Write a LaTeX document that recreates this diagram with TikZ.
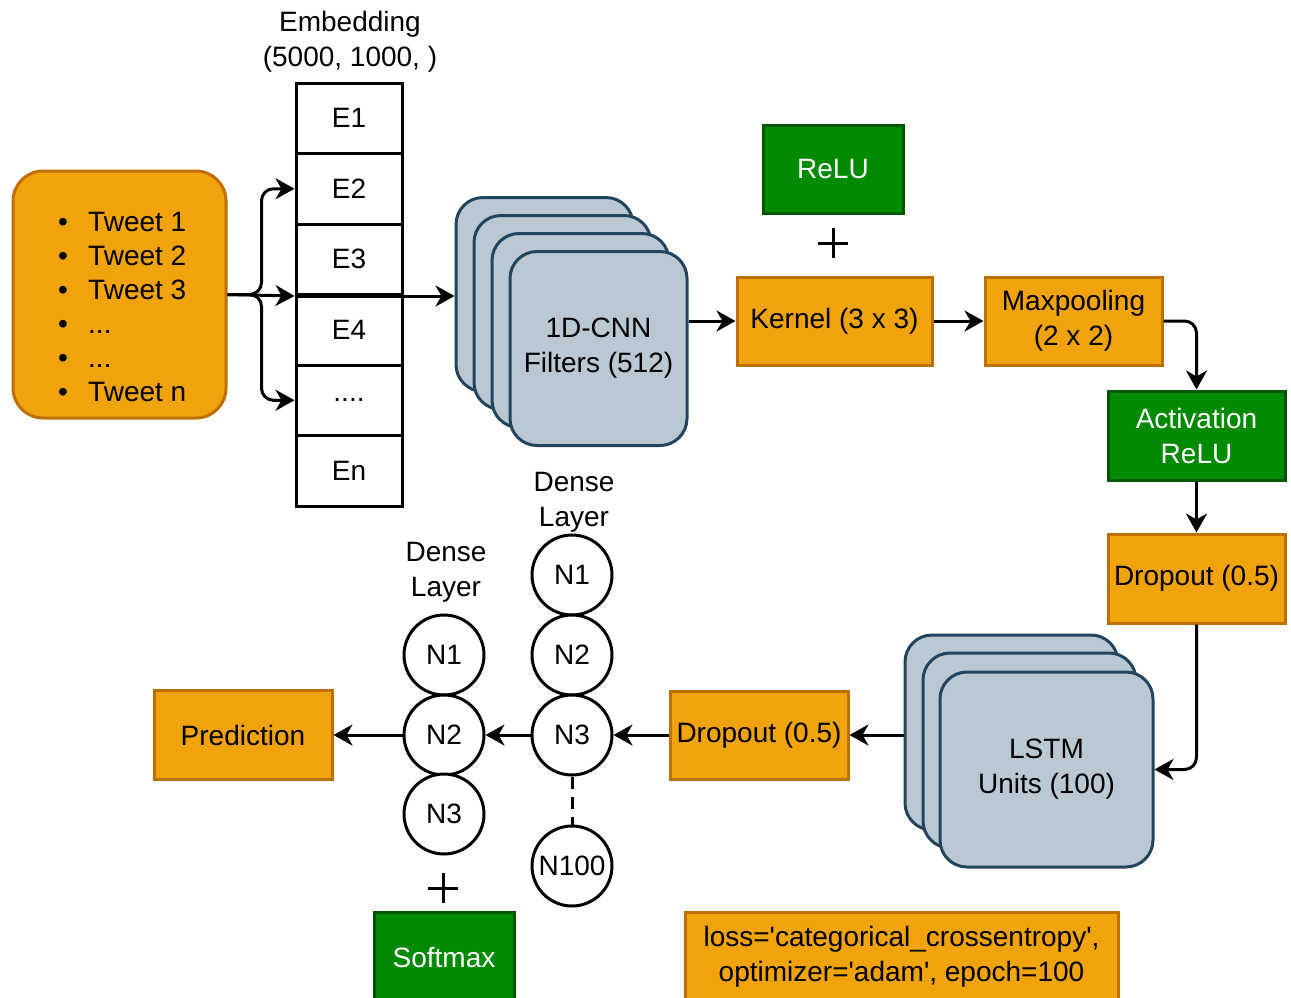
\documentclass[tikz,border=0pt]{standalone}
\usepackage{fontspec}
\setmainfont{Liberation Sans}
\usetikzlibrary{arrows.meta}
\definecolor{ofill}{HTML}{F0A30A}
\definecolor{odraw}{HTML}{BD7000}
\definecolor{gfill}{HTML}{008A00}
\definecolor{gdraw}{HTML}{005700}
\definecolor{bfill}{HTML}{BAC8D3}
\definecolor{bdraw}{HTML}{23445D}
\begin{document}
\begin{tikzpicture}[x=1pt,y=-1pt, font=\fontsize{28}{35}\selectfont,
 obox/.style={draw=odraw, fill=ofill, line width=3pt, inner sep=0pt, align=center},
 gbox/.style={draw=gdraw, fill=gfill, line width=3pt, inner sep=0pt, align=center, text=white},
 layer/.style={draw=bdraw, fill=bfill, line width=3pt, rounded corners=27pt, inner sep=0pt, align=center, minimum width=#1},
 cell/.style={draw=black, line width=3pt, minimum width=106pt, minimum height=70.5pt, inner sep=0pt},
 neuron/.style={circle, draw=black, line width=3pt, minimum size=80pt, inner sep=0pt, fill=white},
 arr/.style={-{Stealth[length=19pt,width=21pt,inset=6pt]}, line width=3pt, rounded corners=12pt},
 plussign/.style={minimum size=30pt, inner sep=0pt, path picture={\draw[line width=3pt] (path picture bounding box.north) -- (path picture bounding box.south) (path picture bounding box.west) -- (path picture bounding box.east);}},
]
\useasboundingbox (0,0) rectangle (1291,997);

% input tweets
\node[obox, rounded corners=30pt, minimum width=213pt, minimum height=247pt] (tweets) at (119.5,294.5) {};
\node[anchor=west, align=left, inner sep=0pt, font=\fontsize{28}{34}\selectfont] (tweetlist) at (58,306.5)
 {\makebox[30pt][l]{•}Tweet 1\\\makebox[30pt][l]{•}Tweet 2\\\makebox[30pt][l]{•}Tweet 3\\\makebox[30pt][l]{•}...\\\makebox[30pt][l]{•}...\\\makebox[30pt][l]{•}Tweet n};

% embedding
\node[align=center] (embtitle) at (350,41.5) {Embedding\\(5000, 1000, )};
\node[cell] (e1) at (349,118.25) {E1};
\node[cell] (e2) at (349,188.75) {E2};
\node[cell] (e3) at (349,259.25) {E3};
\node[cell] (e4) at (349,329.75) {E4};
\node[cell] (e5) at (349,400.25) {....};
\node[cell] (e6) at (349,470.75) {En};

% CNN stack
\node[layer=177pt, minimum height=194pt] (cnnA) at (544.5,294.5) {};
\node[layer=177pt, minimum height=194pt] (cnnB) at (562.5,312.5) {};
\node[layer=177pt, minimum height=194pt] (cnnC) at (580.5,330.5) {};
\node[layer=177pt, minimum height=194pt] (cnnD) at (598.5,348.5) {1D-CNN\\Filters (512)};

% kernel / relu
\node[obox, minimum width=195pt, minimum height=88pt] (kernel) at (834.5,321) {Kernel (3 x 3)};
\node[gbox, minimum width=140pt, minimum height=88pt] (relu) at (833,169) {ReLU};
\node[plussign] (plus1) at (833,243) {};
\node[obox, minimum width=177pt, minimum height=88pt] (maxpool) at (1073.5,321) {Maxpooling\\(2 x 2)};
\node[gbox, minimum width=177pt, minimum height=89pt] (act) at (1196.5,435.5) {Activation\\ReLU};
\node[obox, minimum width=177pt, minimum height=89pt] (drop1) at (1196.5,578.5) {Dropout (0.5)};

% LSTM stack
\node[layer=213pt, minimum height=195pt] (lstmA) at (1011.5,732.5) {};
\node[layer=213pt, minimum height=195pt] (lstmB) at (1029.5,750.5) {};
\node[layer=213pt, minimum height=195pt] (lstmC) at (1046.5,769.5) {LSTM\\Units (100)};

\node[obox, minimum width=178pt, minimum height=88pt] (drop2) at (759,735) {Dropout (0.5)};

% dense layers
\node[align=center] (densA) at (574,502) {Dense\\Layer};
\node[neuron] (a1) at (572,575) {N1};
\node[neuron] (a2) at (572,655) {N2};
\node[neuron] (a3) at (572,735) {N3};
\node[neuron] (a100) at (572,866) {N100};
\node[align=center] (densB) at (446,572) {Dense\\Layer};
\node[neuron] (b1) at (444,655) {N1};
\node[neuron] (b2) at (444,735) {N2};
\node[neuron] (b3) at (444,814) {N3};

\node[obox, minimum width=178pt, minimum height=89pt] (pred) at (243,735) {Prediction};
\node[plussign] (plus2) at (443,888) {};
\node[gbox, minimum width=140pt, minimum height=90pt] (softmax) at (444,957) {Softmax};
\node[obox, minimum width=433pt, minimum height=90pt] (params) at (901.5,957)
 {loss=\textquotesingle categorical\_crossentropy\textquotesingle,\\optimizer=\textquotesingle adam\textquotesingle, epoch=100};

% connectors
\draw[arr] (tweets.east) -- (e3.south west);
\draw[arr] (tweets.east) -- ++(34,0) |- (e2.west);
\draw[arr] (tweets.east) -- ++(34,0) |- (e5.west);
\draw[arr] (e3.south west) -- (e3.south west -| cnnA.west);
\draw[arr] (cnnD.east |- kernel.west) -- (kernel.west);
\draw[arr] (kernel.east) -- (maxpool.west);
\draw[arr] (maxpool.east) -| (act.north);
\draw[arr] (act.south) -- (drop1.north);
\draw[arr] (drop1.south) |- (lstmC.east);
\draw[arr] (lstmA.west |- drop2.east) -- (drop2.east);
\draw[arr] (drop2.west) -- (a3.east);
\draw[arr] (a3.west) -- (b2.east);
\draw[arr] (b2.west) -- (pred.east);
\draw[line width=3pt, dash pattern=on 12pt off 8pt] (a3.south) -- (a100.north);
\end{tikzpicture}
\end{document}
